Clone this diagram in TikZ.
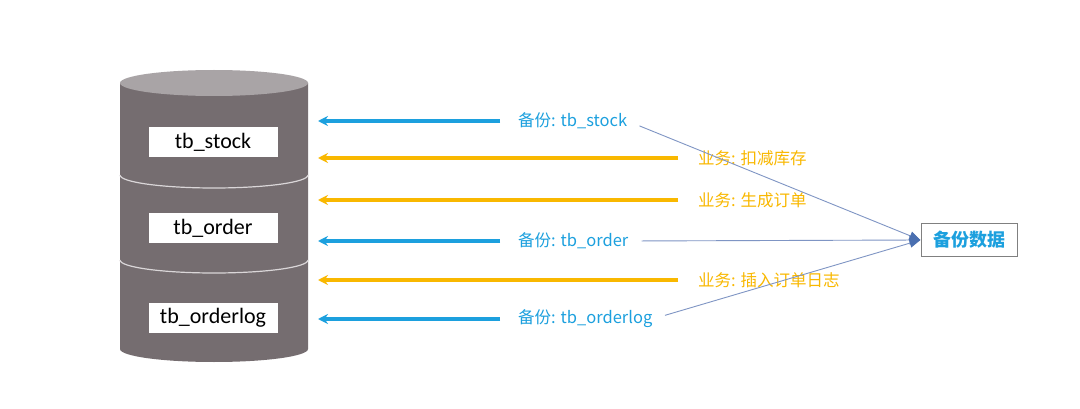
\documentclass[tikz,border=0pt]{standalone}
\usepackage{fontspec}
\setmainfont{Carlito}
\newfontfamily\cjk{Noto Sans CJK SC}
\usetikzlibrary{arrows.meta,positioning}
\definecolor{bkblue}{HTML}{1CA0DE}
\definecolor{ywgold}{HTML}{F9B800}
\definecolor{dbgray}{HTML}{756D70}
\definecolor{dbtop}{HTML}{A9A4A6}
\definecolor{dbline}{HTML}{DAD6D8}
\definecolor{lnblue}{HTML}{7F95C4}
\definecolor{tipblue}{HTML}{4A6FB0}
\tikzset{
  tbl/.style ={fill=white, minimum width=129pt, minimum height=30pt, inner sep=0pt, font=\fontsize{22}{26}\selectfont},
  bk/.style  ={anchor=west, inner sep=0pt, text=bkblue, font=\cjk\fontsize{16.5}{20}\selectfont},
  yw/.style  ={bk, text=ywgold},
  bkar/.style={draw=bkblue, line width=3.2pt, -{Stealth[length=10pt,width=10pt]}},
  ywar/.style={bkar, draw=ywgold},
  cp/.style  ={draw=lnblue, line width=0.9pt, shorten <=13pt, -{Triangle[length=11pt,width=9pt,color=tipblue]}},
  res/.style ={draw=gray, line width=1pt, minimum width=96pt, minimum height=33pt, text=bkblue, font=\cjk\bfseries\fontsize{18}{21}\selectfont}
}

\begin{document}
\begin{tikzpicture}[x=1pt,y=-1pt]
\useasboundingbox (0,0) rectangle (1080,409);
\fill[white] (0,0) rectangle (1080,409);
% database
\fill[dbgray] (120,83) -- (120,349) arc[start angle=180,end angle=0,x radius=94,y radius=13] -- (308,83) -- cycle;
\fill[dbtop] (214,83) ellipse[x radius=94,y radius=13];
\foreach \y in {175,260}
  \draw[dbline, line width=1.2pt] (120,\y) arc[start angle=180,end angle=0,x radius=94,y radius=13];
\node[tbl] (stock) at (213,142) {tb\_stock};
\node[tbl] (order) at (213,228) {tb\_order};
\node[tbl] (olog)  at (213,318) {tb\_orderlog};
\coordinate (db) at (318,0);

\node[bk] (bk1) at (518,121) {备份: tb\_stock};
\node[bk] (bk2) at (518,241) {备份: tb\_order};
\node[bk] (bk3) at (518,319) {备份: tb\_orderlog};
\node[yw] (yw1) at (698,158) {业务: 扣减库存};
\node[yw] (yw2) at (698,200) {业务: 生成订单};
\node[yw] (yw3) at (698,280) {业务: 插入订单日志};
\node[res] (bak) at (969,240) {备份数据};

\foreach \n in {bk1,bk2,bk3}
  \draw[bkar] ([xshift=-18pt]\n.west) -- (\n.west -| db);
\foreach \n in {yw1,yw2,yw3}
  \draw[ywar] ([xshift=-20pt]\n.west) -- (\n.west -| db);
\foreach \n in {bk1,bk2,bk3}
  \draw[cp] (\n.east) -- (bak.west);
\end{tikzpicture}
\end{document}
